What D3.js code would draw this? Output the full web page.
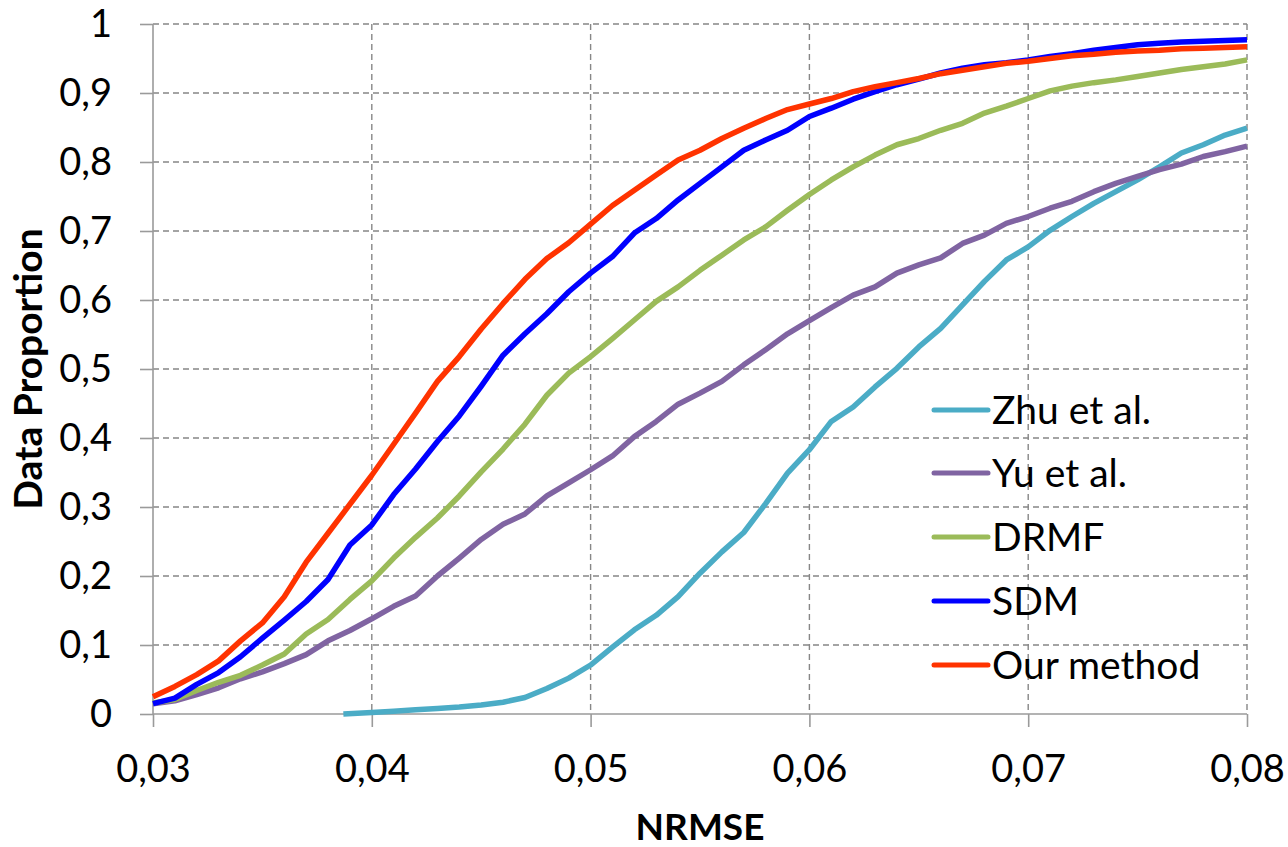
<!DOCTYPE html>
<html>
<head>
<meta charset="utf-8">
<script src="https://cdn.jsdelivr.net/npm/d3@7"></script>
<style>
  html, body { margin: 0; padding: 0; background: #fff; }
  svg { display: block; font-family: Lato, "Open Sans", sans-serif; }
</style>
</head>
<body>
<svg id="chart" width="1288" height="847"></svg>
<script>
// ---- data ----
const nrmse = [0.030,0.031,0.032,0.033,0.034,0.035,0.036,0.037,0.038,0.039,
  0.040,0.041,0.042,0.043,0.044,0.045,0.046,0.047,0.048,0.049,
  0.050,0.051,0.052,0.053,0.054,0.055,0.056,0.057,0.058,0.059,
  0.060,0.061,0.062,0.063,0.064,0.065,0.066,0.067,0.068,0.069,
  0.070,0.071,0.072,0.073,0.074,0.075,0.076,0.077,0.078,0.079,0.080];

const zhuNrmse = [0.0387,0.040,0.041,0.042,0.043,0.044,0.045,0.046,0.047,0.048,0.049,
  0.050,0.051,0.052,0.053,0.054,0.055,0.056,0.057,0.058,0.059,
  0.060,0.061,0.062,0.063,0.064,0.065,0.066,0.067,0.068,0.069,
  0.070,0.071,0.072,0.073,0.074,0.075,0.076,0.077,0.078,0.079,0.080];
const zhu = [0.000,0.002,0.004,0.006,0.008,0.010,0.013,0.017,0.024,0.037,0.052,
  0.071,0.097,0.122,0.143,0.170,0.204,0.235,0.263,0.305,0.349,
  0.383,0.424,0.445,0.474,0.501,0.532,0.559,0.593,0.627,0.658,
  0.677,0.701,0.721,0.740,0.757,0.774,0.793,0.813,0.825,0.839,0.849];

const yu = [0.015,0.019,0.028,0.038,0.051,0.061,0.073,0.086,0.106,0.121,
  0.138,0.156,0.171,0.200,0.226,0.253,0.275,0.290,0.316,0.335,
  0.354,0.374,0.402,0.424,0.449,0.465,0.482,0.506,0.528,0.551,
  0.570,0.589,0.607,0.619,0.639,0.651,0.661,0.682,0.694,0.711,
  0.721,0.733,0.743,0.757,0.769,0.779,0.789,0.797,0.808,0.815,0.823];

const drmf = [0.016,0.021,0.034,0.046,0.056,0.071,0.087,0.116,0.137,0.166,
  0.193,0.226,0.256,0.284,0.316,0.351,0.384,0.420,0.462,0.494,
  0.518,0.544,0.571,0.598,0.619,0.643,0.665,0.687,0.706,0.730,
  0.753,0.774,0.793,0.810,0.825,0.834,0.846,0.856,0.871,0.881,
  0.892,0.903,0.910,0.915,0.919,0.924,0.929,0.934,0.938,0.942,0.948];

const sdm = [0.015,0.023,0.043,0.060,0.083,0.110,0.136,0.163,0.195,0.245,
  0.274,0.318,0.355,0.395,0.432,0.475,0.520,0.551,0.580,0.612,
  0.639,0.663,0.697,0.718,0.745,0.769,0.793,0.817,0.832,0.846,
  0.866,0.878,0.891,0.902,0.912,0.920,0.929,0.936,0.941,0.944,
  0.948,0.953,0.957,0.962,0.966,0.970,0.972,0.974,0.975,0.976,0.977];

const ours = [0.025,0.040,0.057,0.077,0.106,0.132,0.170,0.220,0.262,0.304,
  0.346,0.391,0.436,0.482,0.518,0.558,0.595,0.630,0.660,0.683,
  0.710,0.737,0.759,0.781,0.803,0.817,0.834,0.849,0.863,0.876,
  0.884,0.892,0.902,0.909,0.915,0.921,0.928,0.933,0.938,0.943,
  0.946,0.950,0.954,0.956,0.959,0.961,0.962,0.964,0.965,0.966,0.967];

const seriesNames = ["Zhu et al.", "Yu et al.", "DRMF", "SDM", "Our method"];
const seriesColors = ["#4BACC6", "#8064A2", "#9BBB59", "#0000FF", "#FF3300"];
const xTicks = [0.03, 0.04, 0.05, 0.06, 0.07, 0.08];
const yTicks = [0, 0.1, 0.2, 0.3, 0.4, 0.5, 0.6, 0.7, 0.8, 0.9, 1];
const xTitle = "NRMSE";
const yTitle = "Data Proportion";

// ---- layout ----
const L = 153, R = 1247, T = 24, B = 714;
const svg = d3.select("#chart");
const x = d3.scaleLinear().domain([0.03, 0.08]).range([L, R]);
const y = d3.scaleLinear().domain([0, 1]).range([B, T]);
const fmt = v => d3.format("")(+v.toFixed(2)).replace(".", ",");

// grid
const grid = svg.append("g");
grid.selectAll("line.h").data(yTicks.filter(d => d > 0)).join("line")
  .attr("x1", L).attr("x2", R).attr("y1", d => y(d)).attr("y2", d => y(d))
  .attr("stroke", "#878787").attr("stroke-width", 1.4).attr("stroke-dasharray", "6,4");
grid.selectAll("line.v").data(xTicks.filter(d => d > 0.03)).join("line")
  .attr("x1", d => x(d)).attr("x2", d => x(d)).attr("y1", T).attr("y2", B)
  .attr("stroke", "#878787").attr("stroke-width", 1.4).attr("stroke-dasharray", "6,4");

// axes
const xAxis = d3.axisBottom(x).tickValues(xTicks).tickSize(13).tickFormat(fmt);
const yAxis = d3.axisLeft(y).tickValues(yTicks).tickSize(13).tickPadding(28).tickFormat(fmt);
const gx = svg.append("g").attr("transform", `translate(0,${B})`).call(xAxis);
const gy = svg.append("g").attr("transform", `translate(${L},0)`).call(yAxis);
[gx, gy].forEach(g => {
  g.select(".domain").attr("stroke", "#9a9a9a").attr("stroke-width", 1.6);
  g.selectAll(".tick line").attr("stroke", "#9a9a9a").attr("stroke-width", 1.6);
  g.selectAll(".tick text").attr("fill", "#000").style("font-size", "38px")
    .style("font-family", "Lato, 'Open Sans', sans-serif");
});
gx.select(".domain").attr("d", `M${L},0H${R}`);
gy.select(".domain").attr("d", `M0,${B}V${T}`);
gx.selectAll(".tick text").attr("y", 68).attr("dy", "0");

// titles
svg.append("text").attr("x", (L + R) / 2).attr("y", 840).attr("text-anchor", "middle")
  .style("font-size", "37px").style("font-weight", "bold").text(xTitle);
svg.append("text").attr("transform", `translate(42,${(T + B) / 2}) rotate(-90)`)
  .attr("text-anchor", "middle").style("font-size", "39px").style("font-weight", "bold").text(yTitle);

// lines
const line = d3.line().x(d => x(d[0])).y(d => y(d[1]));
const seriesData = [
  d3.zip(zhuNrmse, zhu),
  d3.zip(nrmse, yu),
  d3.zip(nrmse, drmf),
  d3.zip(nrmse, sdm),
  d3.zip(nrmse, ours)
];
svg.append("g").selectAll("path").data(seriesData).join("path")
  .attr("d", line).attr("fill", "none")
  .attr("stroke", (d, i) => seriesColors[i]).attr("stroke-width", 5.5)
  .attr("stroke-linejoin", "round").attr("stroke-linecap", "butt");

// legend
const legY = [410, 473, 537, 601, 665];
const leg = svg.append("g").selectAll("g").data(seriesNames).join("g")
  .attr("transform", (d, i) => `translate(934,${legY[i]})`);
leg.append("line").attr("x1", 0).attr("x2", 54).attr("y1", 0).attr("y2", 0)
  .attr("stroke", (d, i) => seriesColors[i]).attr("stroke-width", 5).attr("stroke-linecap", "round");
leg.append("text").attr("x", 58).attr("y", 0).attr("dy", "0.36em")
  .style("font-size", "39px").attr("fill", "#000").text(d => d);
</script>
</body>
</html>
